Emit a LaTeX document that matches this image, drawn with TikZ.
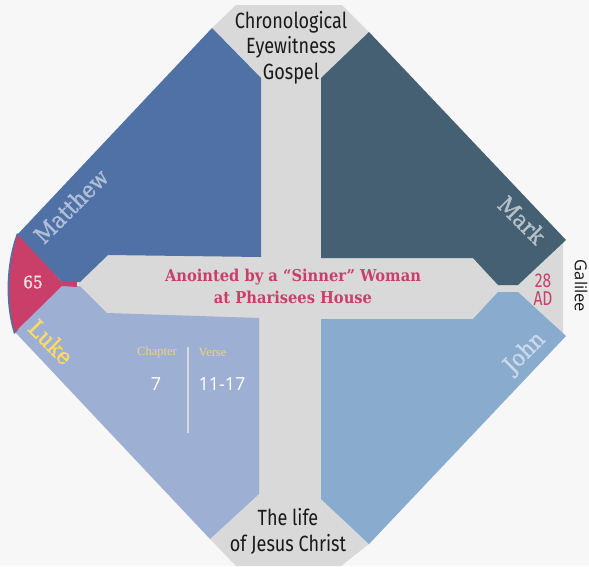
\documentclass[tikz,border=0pt]{standalone}
\usepackage{fontspec}
\setmainfont{DejaVu Serif}
\newfontfamily\condsans[FakeStretch=0.82]{Fira Sans}
\newfontfamily\tallsans[FakeStretch=0.78]{Fira Sans}
\newfontfamily\opensans{Open Sans}
\newfontfamily\labserif[FakeStretch=0.9]{DejaVu Serif}
\newfontfamily\heavyserif[FakeStretch=0.9,FakeBold=1.2]{DejaVu Serif}
\newfontfamily\bodyserif{Liberation Serif}
\definecolor{bg}{HTML}{F7F7F7}
\definecolor{crossgray}{HTML}{D9D9D9}
\definecolor{mattc}{HTML}{4F71A6}
\definecolor{markc}{HTML}{456073}
\definecolor{lukec}{HTML}{9DAFD3}
\definecolor{johnc}{HTML}{88ABCE}
\definecolor{redc}{HTML}{C93F69}
\definecolor{goldc}{HTML}{FFD966}
\definecolor{chapc}{HTML}{F0D27A}
\tikzset{
  titletext/.style={font=\condsans\fontsize{22}{25.5}\selectfont, align=center, text=black!90, inner sep=0pt},
  gospel/.style={font=\heavyserif\fontsize{23}{26}\selectfont, inner sep=0pt},
  head/.style={font=\bodyserif\fontsize{12.5}{14}\selectfont, text=chapc, inner sep=0pt},
  num/.style={font=\opensans\fontsize{18}{20}\selectfont, text=white, inner sep=0pt},
}
\begin{document}
\begin{tikzpicture}[x=1pt,y=-1pt]
\useasboundingbox (0,0) rectangle (589,566);
\fill[bg] (0,0) rectangle (589,566);
% grey cross
\fill[crossgray] (236,5) -- (342,5) -- (369,32) -- (563,240) -- (563,336) -- (369,544) -- (341,566) -- (236,566) -- (210,539) -- (78,284) -- (212,28) -- cycle;
% quadrants
\fill[mattc] (212,28) -- (261,78) -- (261,257) -- (108,255) -- (80,282) -- (62,282) -- (17,235) -- cycle;
\fill[markc] (369,32) -- (321,78) -- (321,258) -- (473,258) -- (498,285) -- (518,285) -- (566,240) -- cycle;
\fill[lukec] (259,318) -- (259,494) -- (210,539) -- (15,332) -- (62,286) -- (80,286) -- (107,313) -- cycle;
\fill[johnc] (321,319) -- (473,319) -- (498,292) -- (518,292) -- (566,336) -- (369,544) -- (321,499) -- cycle;
% red wedge
\fill[mattc] (17,233) .. controls (5,265) and (5,305) .. (14,334) -- (18,330) -- (20,236) -- cycle;
\fill[redc] (18,235) .. controls (7,265) and (7,305) .. (15,332) -- (62,286) -- (77,287) -- (77,282) -- (62,282) -- cycle;
% divider
\draw[crossgray, line width=1.3pt] (188,347) -- (188,433);
% texts
\node[titletext] (top) at (291,47.5) {Chronological\\Eyewitness\\Gospel};
\node[titletext] (bottom) at (288,531.5) {The life\\of Jesus Christ};
\node[font=\labserif\bfseries\fontsize{16.3}{22}\selectfont, text=redc, align=center, inner sep=0pt] (title) at (293,286) {Anointed by a “Sinner” Woman\\at Pharisees House};
\node[gospel, text=mattc!45!white, rotate=45] (matthew) at (71,206) {Matthew};
\node[gospel, text=markc!40!white, rotate=-45] (mark) at (522,220) {Mark};
\node[gospel, text=goldc, rotate=-45] (luke) at (51,342) {Luke};
\node[gospel, text=johnc!45!white, rotate=45] (john) at (525,353) {John};
\node[font=\heavyserif\fontsize{17}{18}\selectfont, text=white!90!black, inner sep=0pt] (sixtyfive) at (33,282) {65};
\node[font=\tallsans\fontsize{20}{18}\selectfont, text=redc, align=center, inner sep=0pt] (ad) at (543,290) {28\\AD};
\node[font=\opensans\fontsize{16.5}{18}\selectfont, text=black!90, rotate=-90, inner sep=0pt] (galilee) at (581,286) {Galilee};
\node[head] (chapter) at (157,352) {Chapter};
\node[head] (verse) at (212.5,352) {Verse};
\node[num] (seven) at (156,384) {7};
\node[num] (verses) at (222,384) {11-17};
\end{tikzpicture}
\end{document}
